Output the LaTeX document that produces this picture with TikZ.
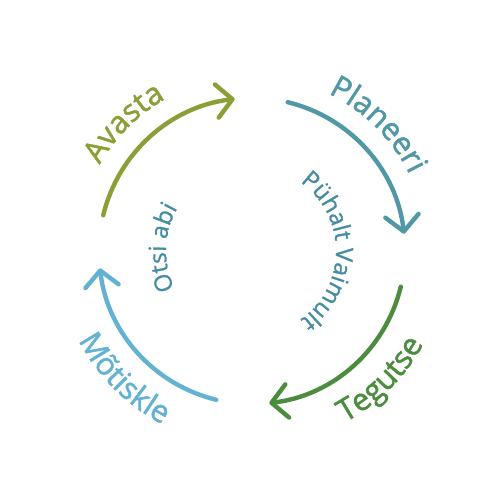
\documentclass[tikz,border=0pt]{standalone}
\usepackage{fontspec}
\setmainfont{Open Sans}
\newfontfamily\lblff{Open Sans}[FakeBold=1.6]
\newfontfamily\innff{Open Sans}[FakeBold=1.0]
\usetikzlibrary{arrows.meta,decorations.text}
\definecolor{cA}{RGB}{138,160,55}
\definecolor{cP}{RGB}{80,152,165}
\definecolor{cT}{RGB}{76,140,62}
\definecolor{cM}{RGB}{100,178,210}
\definecolor{cI}{RGB}{70,140,160}
\newcommand{\lblfont}{\lblff\fontsize{17.5}{20}\selectfont}
\newcommand{\innfont}{\innff\fontsize{13.5}{16}\selectfont}
\begin{document}
\begin{tikzpicture}[x=0.02cm,y=0.02cm,
  cyc/.style={line width=2.5pt, line cap=round, -{Straight Barb[length=9pt,width=19pt,round]}},
  lbl/.style={decorate, decoration={text along path, text align=center, text={#1}}}]
\fill[white] (0,0) rectangle (500,500);
\useasboundingbox (0,0) rectangle (500,500);
\coordinate (O) at (252,249);
% arcs
\draw[cyc, draw=cA] (O) ++(166.5:153) coordinate (a1) arc[start angle=166.5, end angle=96.5, radius=153] coordinate (a2);
\draw[cyc, draw=cP] (O) ++(76.5:153) coordinate (p1) arc[start angle=76.5, end angle=6.5, radius=153] coordinate (p2);
\draw[cyc, draw=cT] (O) ++(-13.5:153) coordinate (t1) arc[start angle=-13.5, end angle=-83.5, radius=153] coordinate (t2);
\draw[cyc, draw=cM] (O) ++(-103.5:153) coordinate (m1) arc[start angle=-103.5, end angle=-173.5, radius=153] coordinate (m2);
% labels
\path[lbl={|\lblfont\color{cA}|Avasta}] (O) ++(175:175) arc[start angle=175, end angle=95, radius=175];
\path[lbl={|\lblfont\color{cP}|Planeeri}] (O) ++(85:175) arc[start angle=85, end angle=5, radius=175];
\path[lbl={|\lblfont\color{cT}|Tegutse}] (O) ++(-85:195) arc[start angle=-85, end angle=-5, radius=195];
\path[lbl={|\lblfont\color{cM}|Mõtiskle}] (O) ++(-175:195) arc[start angle=-175, end angle=-95, radius=195];
% inner texts
\path[lbl={|\innfont\color{cI}|Otsi abi}] (O) ++(240:86) arc[start angle=240, end angle=116, radius=86];
\path[lbl={|\innfont\color{cI}|Pühalt Vaimult}] (O) ++(75:84) arc[start angle=75, end angle=-75, radius=84];
\end{tikzpicture}
\end{document}
